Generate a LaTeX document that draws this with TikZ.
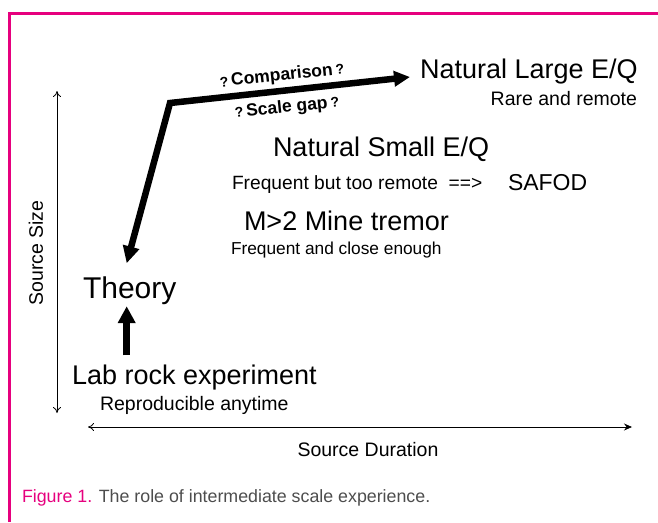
\documentclass[tikz,border=0pt]{standalone}
\usepackage{fontspec}
\setmainfont{Liberation Sans}
\usetikzlibrary{arrows.meta}
\definecolor{framepink}{HTML}{E6007E}
\definecolor{captiongray}{HTML}{4D4D4D}
\newcommand{\fsz}[1]{\fontsize{#1}{#1}\selectfont}
\tikzset{
  lbl/.style={inner sep=0pt, outer sep=0pt, text=black},
  bigtext/.style={lbl, font=\fsz{27}},
  smalltext/.style={lbl, font=\fsz{19.5}},
  thickarrow/.style={line width=6.5pt, line join=miter, -{Triangle[length=17pt,width=17pt]}},
  axisline/.style={line width=0.8pt, black},
  qlabel/.style={lbl, font=\bfseries\fsz{17.5}, rotate=6},
}
\newcommand{\qm}{{\fsz{14}?}}
\begin{document}
\begin{tikzpicture}[x=1pt,y=-1pt]
\useasboundingbox (0,0) rectangle (658,522);
% frame
\draw[framepink, line width=3pt] (9.5,522) -- (9.5,13.5) -- (658,13.5);
% axes
\coordinate (ytop) at (57,91);
\coordinate (ybot) at (57,413);
\coordinate (xleft) at (88,427);
\coordinate (xright) at (632,427);
\draw[axisline, {To[length=6pt,width=8pt]}-{To[length=6pt,width=8pt]}] (ytop) -- (ybot);
\draw[axisline, {To[length=6pt,width=8pt]}-{Stealth[length=8pt,width=7pt]}] (xleft) -- (xright);
\node[smalltext, rotate=90, anchor=center] (ssize) at (36,253) {Source Size};
\node[smalltext, anchor=base] (sdur) at (368,456) {Source Duration};
% texts
\node[lbl, font=\fsz{30}, anchor=base west] (theory) at (83,298) {Theory};
\node[bigtext, anchor=base west] (lab) at (72,384) {Lab rock experiment};
\node[smalltext, anchor=base west] (repro) at (100,410) {Reproducible anytime};
\node[bigtext, anchor=base west] (large) at (420,78) {Natural Large E/Q};
\node[smalltext, anchor=base east] (rare) at (637,105) {Rare and remote};
\node[bigtext, anchor=base west] (small) at (273,156) {Natural Small E/Q};
\node[lbl, font=\fsz{19.2}, anchor=base west] (freqa) at (232,189) {Frequent but too remote\ \ ==>};
\node[lbl, font=\fsz{23}, anchor=base west] (safod) at (508,190) {SAFOD};
\node[bigtext, anchor=base west] (mine) at (244,230) {M>2 Mine tremor};
\node[lbl, font=\fsz{17.3}, anchor=base west] (freqb) at (231,254) {Frequent and close enough};
% arrows
\coordinate (corner) at (170,103);
\draw[line width=6.5pt, line join=miter, {Triangle[length=17pt,width=16pt]}-{Triangle[length=16pt,width=15pt]}]
  ([xshift=-3pt,yshift=13pt]theory.north) -- (corner) -- ([xshift=-10pt,yshift=1pt]large.base west);
\draw[thickarrow] ([xshift=-3pt,yshift=9pt]theory.south |- lab.north) -- ([xshift=-3pt,yshift=-2pt]theory.south);
\node[qlabel] (comp) at (282,76) {\qm\,Comparison\,\qm};
\node[qlabel] (gap) at (287,108) {\qm\,Scale gap\,\qm};
% caption
\node[lbl, font=\fsz{17.8}, anchor=base west, text=captiongray] (caption) at (22,502)
  {\textcolor{framepink}{Figure 1.} The role of intermediate scale experience.};
\end{tikzpicture}
\end{document}
